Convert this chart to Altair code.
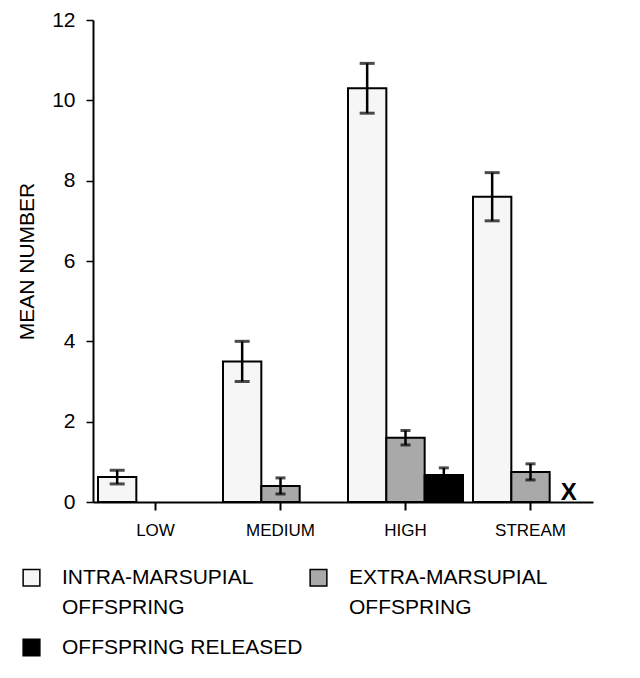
import altair as alt
import pandas as pd

groups = ["LOW", "MEDIUM", "HIGH", "STREAM"]
series = ["INTRA-MARSUPIAL|OFFSPRING", "EXTRA-MARSUPIAL|OFFSPRING", "OFFSPRING RELEASED"]

intra_mean = [0.62, 3.5, 10.3, 7.6]
intra_err = [0.17, 0.5, 0.62, 0.6]
extra_mean = [0.0, 0.4, 1.6, 0.75]
extra_err = [0.0, 0.2, 0.18, 0.2]
released_mean = [0.0, 0.0, 0.67, None]
released_err = [0.0, 0.0, 0.18, None]

# groups where the value is marked "X" (not observed)
x_marker_groups = ["STREAM"]
x_marker_series = ["OFFSPRING RELEASED"]

rows = []
for s, means, errs in zip(series, [intra_mean, extra_mean, released_mean],
                          [intra_err, extra_err, released_err]):
    for g, m, e in zip(groups, means, errs):
        if m is None or m <= 0:
            continue
        rows.append({"group": g, "series": s, "mean": m,
                     "lower": m - e, "upper": m + e})
df = pd.DataFrame(rows)
marks_df = pd.DataFrame({"group": x_marker_groups, "series": x_marker_series,
                         "mean": [0.0] * len(x_marker_groups),
                         "label": ["X"] * len(x_marker_groups)})

FONT = "Liberation Sans"

x_enc = alt.X("group:N", sort=groups,
              scale=alt.Scale(paddingInner=0.08, paddingOuter=0.04),
              axis=alt.Axis(title=None, labelAngle=0, labelFontSize=17, labelFont=FONT,
                            labelColor="black", labelPadding=12, tickSize=8, tickWidth=2,
                            tickColor="black", domainColor="black", domainWidth=2))
xoff = alt.XOffset("series:N", sort=series, scale=alt.Scale(domain=series, paddingInner=0))
y_scale = alt.Scale(domain=[0, 12], nice=False)

color = alt.Color("series:N", sort=series,
                  scale=alt.Scale(domain=series, range=["#f6f6f6", "#a9a9a9", "#000000"]),
                  legend=alt.Legend(title=None, orient="none", legendX=-72, legendY=547,
                                    direction="horizontal", columns=2, columnPadding=4,
                                    rowPadding=18,
                                    symbolType="square", symbolSize=280,
                                    symbolStrokeColor="black", symbolStrokeWidth=1.5,
                                    labelFontSize=21, labelFont=FONT, labelColor="black",
                                    labelLimit=400, labelOffset=20, labelBaseline="middle",
                                    labelExpr="split(datum.label, '|')"))

bars = alt.Chart(df).mark_bar(stroke="black", strokeWidth=2).encode(
    x=x_enc, xOffset=xoff,
    y=alt.Y("mean:Q", scale=y_scale,
            axis=alt.Axis(title="MEAN NUMBER", titleFontSize=21, titleFont=FONT,
                          titleFontWeight="normal", titleColor="black", titlePadding=14,
                          values=[0, 2, 4, 6, 8, 10, 12], labelFontSize=21, labelFont=FONT,
                          labelColor="black", labelPadding=11, tickSize=7, tickWidth=1.5,
                          tickColor="black", domainColor="black", domainWidth=2, grid=False)),
    color=color,
)

whisk = alt.Chart(df).mark_rule(color="black", strokeWidth=2.5).encode(
    x=alt.X("group:N", sort=groups), xOffset=xoff,
    y=alt.Y("lower:Q", scale=y_scale), y2="upper:Q")

is_intra = alt.datum.series == series[0]
cap_up = alt.Chart(df).mark_tick(color="black", thickness=3).encode(
    x=alt.X("group:N", sort=groups), xOffset=xoff,
    y=alt.Y("upper:Q", scale=y_scale),
    size=alt.condition(is_intra, alt.value(15), alt.value(10)))
cap_lo = alt.Chart(df).mark_tick(color="black", thickness=3).encode(
    x=alt.X("group:N", sort=groups), xOffset=xoff,
    y=alt.Y("lower:Q", scale=y_scale),
    size=alt.condition(is_intra, alt.value(15), alt.value(10)))

xmark = alt.Chart(marks_df).mark_text(font=FONT, fontSize=24, fontWeight="bold",
                                      baseline="bottom", color="black", dy=3).encode(
    x=alt.X("group:N", sort=groups), xOffset=xoff,
    y=alt.Y("mean:Q", scale=y_scale), text="label:N")

chart = alt.layer(bars, whisk, cap_up, cap_lo, xmark).properties(
    width=500, height=482,
    autosize=alt.AutoSizeParams(type="none"),
    padding={"left": 85, "top": 12, "right": 39, "bottom": 168},
).configure(
    background="white",
    view={"strokeWidth": 0},
    style={"guide-label": {"lineHeight": 30}},
)

chart.save("out.html", embed_options={"renderer": "svg", "actions": False})
